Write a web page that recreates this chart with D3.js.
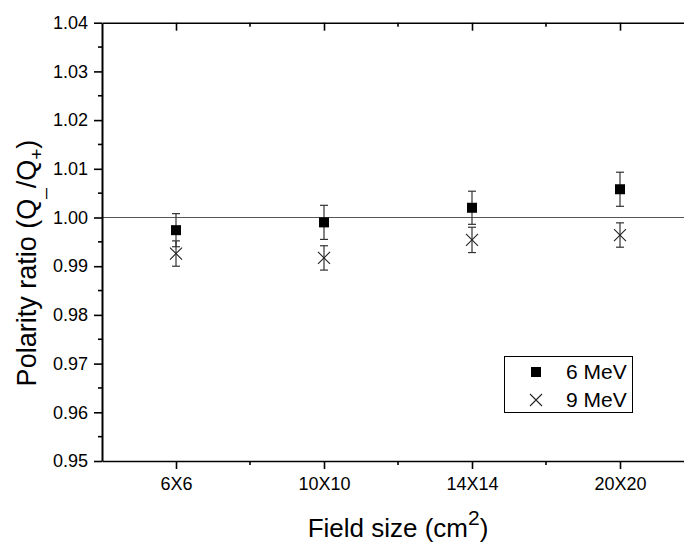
<!DOCTYPE html>
<html>
<head>
<meta charset="utf-8">
<script src="https://cdn.jsdelivr.net/npm/d3@7"></script>
<style>
  body { margin: 0; background: #fff; }
</style>
</head>
<body>
<div id="chart"></div>
<script>
// data
var categories = ['6X6', '10X10', '14X14', '20X20'];
var mev6 = [0.9974, 0.9990, 1.0020, 1.0058];
var mev6_err = [0.0034, 0.0035, 0.0034, 0.0035];
var mev9 = [0.9926, 0.9917, 0.9954, 0.9964];
var mev9_err = [0.0026, 0.0025, 0.0026, 0.0025];
var y_ticks = [0.95, 0.96, 0.97, 0.98, 0.99, 1.00, 1.01, 1.02, 1.03, 1.04];
var y_minor = [0.955, 0.965, 0.975, 0.985, 0.995, 1.005, 1.015, 1.025, 1.035];

var FONT = 'Liberation Sans, Arimo, Arial, sans-serif';
var W = 684, H = 545;
var left = 102, top_y = 22.7, bottom_y = 461;

var svg = d3.select('#chart').append('svg')
    .attr('width', W)
    .attr('height', H)
    .style('font-family', FONT);

var x_scale = d3.scaleLinear()
    .domain([-0.5, 3.5])
    .range([left, left + 148 * 4]);

var y_scale = d3.scaleLinear()
    .domain([0.95, 1.04])
    .range([bottom_y, top_y]);

// reference line at 1.00
svg.append('line')
    .attr('x1', left).attr('x2', W)
    .attr('y1', y_scale(1.0)).attr('y2', y_scale(1.0))
    .attr('stroke', '#555')
    .attr('stroke-width', 1);

// bottom axis
var x_axis = d3.axisBottom(x_scale)
    .tickValues([0, 1, 2, 3])
    .tickFormat(function(d) { return categories[d]; })
    .tickSize(8)
    .tickSizeOuter(0);

var gx = svg.append('g')
    .attr('class', 'x-axis')
    .attr('transform', 'translate(0,' + bottom_y + ')')
    .call(x_axis)
    .attr('font-family', FONT);
gx.select('.domain').attr('stroke-width', 1.6);
gx.selectAll('.tick line').attr('stroke-width', 1.6);
gx.selectAll('text')
    .attr('y', 29)
    .attr('dy', null)
    .style('font-family', FONT)
    .style('font-size', '18px')
    .attr('fill', '#000');

gx.selectAll('.minor')
    .data([0.5, 1.5, 2.5, 3.5])
    .enter()
    .append('line')
        .attr('class', 'minor')
        .attr('x1', function(d) { return x_scale(d); })
        .attr('x2', function(d) { return x_scale(d); })
        .attr('y1', 0).attr('y2', 4)
        .attr('stroke', '#000')
        .attr('stroke-width', 1.6);

// top axis, ticks pointing in
var x_axis_top = d3.axisBottom(x_scale)
    .tickValues([0, 1, 2, 3])
    .tickFormat('')
    .tickSize(8)
    .tickSizeOuter(0);
var gt = svg.append('g')
    .attr('transform', 'translate(0,' + top_y + ')')
    .call(x_axis_top);
gt.select('.domain').attr('stroke-width', 1.6);
gt.selectAll('.tick line').attr('stroke-width', 1.6);
gt.selectAll('.minor')
    .data([0.5, 1.5, 2.5, 3.5])
    .enter()
    .append('line')
        .attr('class', 'minor')
        .attr('x1', function(d) { return x_scale(d); })
        .attr('x2', function(d) { return x_scale(d); })
        .attr('y1', 0).attr('y2', 4)
        .attr('stroke', '#000')
        .attr('stroke-width', 1.6);

// left axis
var y_axis = d3.axisLeft(y_scale)
    .tickValues(y_ticks)
    .tickFormat(d3.format('.2f'))
    .tickSize(8)
    .tickSizeOuter(0);
var gy = svg.append('g')
    .attr('class', 'y-axis')
    .attr('transform', 'translate(' + left + ',0)')
    .call(y_axis)
    .attr('font-family', FONT);
gy.select('.domain').attr('stroke-width', 2);
gy.selectAll('.tick line').attr('stroke-width', 1.6);
gy.selectAll('text')
    .attr('x', -14)
    .style('font-family', FONT)
    .style('font-size', '18px')
    .attr('fill', '#000');
gy.selectAll('.minor')
    .data(y_minor)
    .enter()
    .append('line')
        .attr('class', 'minor')
        .attr('x1', -4).attr('x2', 0)
        .attr('y1', function(d) { return y_scale(d); })
        .attr('y2', function(d) { return y_scale(d); })
        .attr('stroke', '#000')
        .attr('stroke-width', 1.6);

// error bars
function errorBars(vals, errs, color) {
    var g = svg.append('g');
    vals.forEach(function(v, i) {
        var cx = x_scale(i);
        var y1 = y_scale(v + errs[i]), y2 = y_scale(v - errs[i]);
        g.append('line')
            .attr('x1', cx).attr('x2', cx)
            .attr('y1', y1).attr('y2', y2)
            .attr('stroke', color).attr('stroke-width', 1.2);
        [y1, y2].forEach(function(yy) {
            g.append('line')
                .attr('x1', cx - 4).attr('x2', cx + 4)
                .attr('y1', yy).attr('y2', yy)
                .attr('stroke', color).attr('stroke-width', 1.2);
        });
    });
}
errorBars(mev9, mev9_err, '#333');
errorBars(mev6, mev6_err, '#333');

// 9 MeV crosses
function cross(g, cx, cy, s) {
    g.append('path')
        .attr('d', 'M' + (cx - s) + ',' + (cy - s) + 'L' + (cx + s) + ',' + (cy + s) +
                   'M' + (cx - s) + ',' + (cy + s) + 'L' + (cx + s) + ',' + (cy - s))
        .attr('stroke', '#222')
        .attr('stroke-width', 1.1)
        .attr('fill', 'none');
}
var g9 = svg.append('g');
mev9.forEach(function(v, i) { cross(g9, x_scale(i), y_scale(v), 6); });

// 6 MeV squares
svg.selectAll('.sq')
    .data(mev6)
    .enter()
    .append('rect')
        .attr('class', 'sq')
        .attr('x', function(d, i) { return x_scale(i) - 5; })
        .attr('y', function(d) { return y_scale(d) - 5; })
        .attr('width', 10)
        .attr('height', 10)
        .attr('fill', '#000');

// legend
var lg = svg.append('g');
lg.append('rect')
    .attr('x', 504.5).attr('y', 356.5)
    .attr('width', 128).attr('height', 56)
    .attr('fill', '#fff')
    .attr('stroke', '#000')
    .attr('stroke-width', 1);
lg.append('rect')
    .attr('x', 531).attr('y', 367)
    .attr('width', 10).attr('height', 10)
    .attr('fill', '#000');
cross(lg, 536, 400, 6);
lg.append('text')
    .attr('x', 566).attr('y', 379)
    .style('font-size', '21px')
    .text('6 MeV');
lg.append('text')
    .attr('x', 566).attr('y', 407)
    .style('font-size', '21px')
    .text('9 MeV');

// axis titles
var xt = svg.append('text')
    .attr('x', 398).attr('y', 537)
    .attr('text-anchor', 'middle')
    .style('font-size', '26px');
xt.append('tspan').text('Field size (cm');
xt.append('tspan').attr('dy', -12).style('font-size', '21px').text('2');
xt.append('tspan').attr('dy', 12).text(')');

var yt = svg.append('text')
    .attr('transform', 'translate(36,263) rotate(-90)')
    .attr('text-anchor', 'middle')
    .style('font-size', '27px');
yt.append('tspan').text('Polarity ratio (Q');
yt.append('tspan').attr('dy', 7).style('font-size', '19px').text('_');
yt.append('tspan').attr('dy', -7).text('/Q');
yt.append('tspan').attr('dy', 7).style('font-size', '19px').text('+');
yt.append('tspan').attr('dy', -7).text(')');
</script>
</body>
</html>
